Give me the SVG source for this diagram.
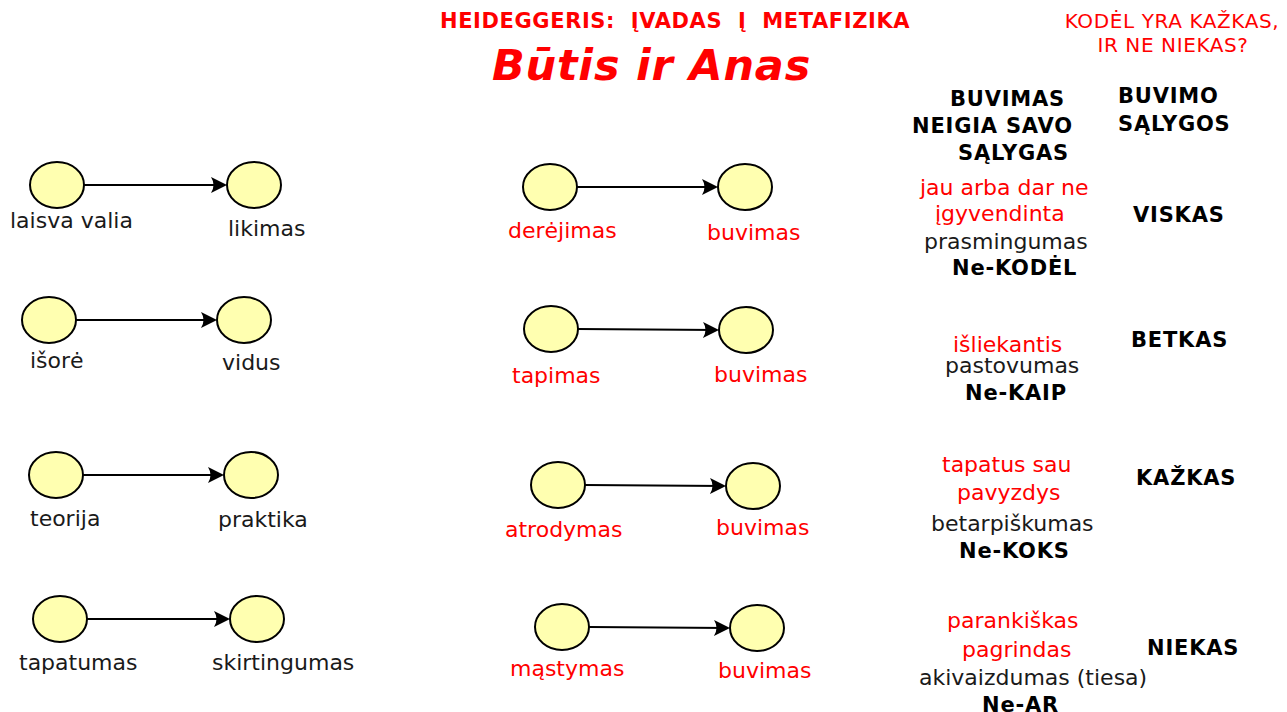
<svg xmlns="http://www.w3.org/2000/svg" width="1287" height="712" viewBox="0 0 1287 712">
<style>
text{font-family:"DejaVu Sans","Liberation Sans",sans-serif;}
.lbl{font-size:22px;fill:#1a1a1a;}
.rt{font-size:22px;fill:#1a1a1a;}
.bd{font-size:21px;font-weight:bold;letter-spacing:0.8px;fill:#000;}
text.red{fill:#ff0000;}
ellipse{fill:#ffffb0;stroke:#000;stroke-width:2;}
.con line{stroke:#000;stroke-width:2;marker-end:url(#ah);}
</style>
<defs>
<marker id="ah" markerUnits="userSpaceOnUse" viewBox="-18 -10 22 20" refX="0" refY="0" markerWidth="22" markerHeight="20" orient="auto">
<path d="M2,0 L-14,-8 Q-9,0 -14,8 Z" fill="#000"/>
</marker>
</defs>
<rect width="1287" height="712" fill="#fff"/>
<g id="titles">
<text x="440" y="28" xml:space="preserve" style="font-size:21px;font-weight:bold;letter-spacing:0.6px;fill:#ff0000">HEIDEGGERIS:  ĮVADAS  Į  METAFIZIKA</text>
<text x="492" y="80" style="font-size:43px;font-weight:bold;font-style:italic;letter-spacing:0.8px;fill:#ff0000">Būtis ir Anas</text>
<text x="1172" y="28" text-anchor="middle" style="font-size:20px;letter-spacing:0.6px;fill:#ff0000">KODĖL YRA KAŽKAS,</text>
<text x="1173" y="52" text-anchor="middle" style="font-size:20px;letter-spacing:0.6px;fill:#ff0000">IR NE NIEKAS?</text>
</g>
<g class="con" id="connectors">
<line x1="84" y1="185" x2="225" y2="185"/>
<line x1="76" y1="320" x2="215" y2="320"/>
<line x1="83" y1="475" x2="222" y2="475"/>
<line x1="87" y1="619" x2="228" y2="619"/>
<line x1="577" y1="187" x2="716" y2="187"/>
<line x1="578" y1="329" x2="717" y2="330"/>
<line x1="585" y1="485" x2="724" y2="486"/>
<line x1="589" y1="627" x2="728" y2="628"/>
</g>
<g id="n-laisva"><ellipse cx="57" cy="185" rx="27" ry="23"/><text class="lbl" x="10" y="228">laisva valia</text></g>
<g id="n-likimas"><ellipse cx="254" cy="185" rx="27" ry="23"/><text class="lbl" x="228" y="236">likimas</text></g>
<g id="n-isore"><ellipse cx="49" cy="320" rx="27" ry="23"/><text class="lbl" x="30" y="368">išorė</text></g>
<g id="n-vidus"><ellipse cx="244" cy="320" rx="27" ry="23"/><text class="lbl" x="222" y="370">vidus</text></g>
<g id="n-teorija"><ellipse cx="56" cy="475" rx="27" ry="23"/><text class="lbl" x="30" y="526">teorija</text></g>
<g id="n-praktika"><ellipse cx="251" cy="475" rx="27" ry="23"/><text class="lbl" x="218" y="527">praktika</text></g>
<g id="n-tapatumas"><ellipse cx="60" cy="619" rx="27" ry="23"/><text class="lbl" x="19" y="670">tapatumas</text></g>
<g id="n-skirtingumas"><ellipse cx="257" cy="619" rx="27" ry="23"/><text class="lbl" x="212" y="670">skirtingumas</text></g>
<g id="n-derejimas"><ellipse cx="550" cy="187" rx="27" ry="23"/><text class="lbl red" x="508" y="238">derėjimas</text></g>
<g id="n-buvimas1"><ellipse cx="745" cy="187" rx="27" ry="23"/><text class="lbl red" x="707" y="240">buvimas</text></g>
<g id="n-tapimas"><ellipse cx="551" cy="329" rx="27" ry="23"/><text class="lbl red" x="512" y="383">tapimas</text></g>
<g id="n-buvimas2"><ellipse cx="746" cy="330" rx="27" ry="23"/><text class="lbl red" x="714" y="382">buvimas</text></g>
<g id="n-atrodymas"><ellipse cx="558" cy="485" rx="27" ry="23"/><text class="lbl red" x="505" y="537">atrodymas</text></g>
<g id="n-buvimas3"><ellipse cx="753" cy="486" rx="27" ry="23"/><text class="lbl red" x="716" y="535">buvimas</text></g>
<g id="n-mastymas"><ellipse cx="562" cy="627" rx="27" ry="23"/><text class="lbl red" x="510" y="676">mąstymas</text></g>
<g id="n-buvimas4"><ellipse cx="757" cy="628" rx="27" ry="23"/><text class="lbl red" x="718" y="678">buvimas</text></g>
<g id="right-header">
<text class="bd" x="950" y="106">BUVIMAS</text>
<text class="bd" x="912" y="133">NEIGIA SAVO</text>
<text class="bd" x="958" y="160">SĄLYGAS</text>
<text class="bd" x="1118" y="103">BUVIMO</text>
<text class="bd" x="1118" y="131">SĄLYGOS</text>
</g>
<g id="right-1">
<text class="rt red" x="920" y="195">jau arba dar ne</text>
<text class="rt red" x="935" y="221">įgyvendinta</text>
<text class="rt" x="924" y="249">prasmingumas</text>
<text class="bd" x="952" y="275">Ne-KODĖL</text>
<text class="bd" x="1133" y="222">VISKAS</text>
</g>
<g id="right-2">
<text class="rt red" x="953" y="352">išliekantis</text>
<text class="rt" x="945" y="373">pastovumas</text>
<text class="bd" x="965" y="400">Ne-KAIP</text>
<text class="bd" x="1131" y="347">BETKAS</text>
</g>
<g id="right-3">
<text class="rt red" x="942" y="472">tapatus sau</text>
<text class="rt red" x="957" y="500">pavyzdys</text>
<text class="rt" x="931" y="531">betarpiškumas</text>
<text class="bd" x="959" y="558">Ne-KOKS</text>
<text class="bd" x="1136" y="485">KAŽKAS</text>
</g>
<g id="right-4">
<text class="rt red" x="947" y="628">parankiškas</text>
<text class="rt red" x="962" y="657">pagrindas</text>
<text class="rt" x="919" y="685">akivaizdumas (tiesa)</text>
<text class="bd" x="982" y="712">Ne-AR</text>
<text class="bd" x="1147" y="655">NIEKAS</text>
</g>
</svg>
